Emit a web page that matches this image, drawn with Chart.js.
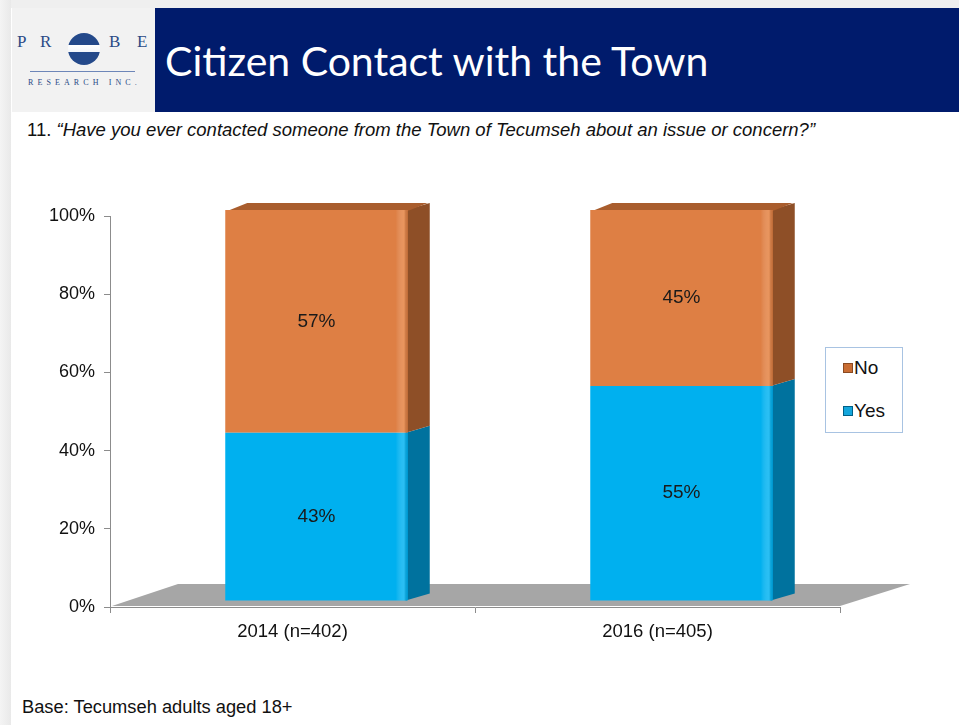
<!DOCTYPE html>
<html>
<head>
<meta charset="utf-8">
<script src="https://cdn.jsdelivr.net/npm/chart.js@4"></script>
<style>
  html, body { margin: 0; padding: 0; background: #fff; }
  body { width: 959px; height: 725px; position: relative; overflow: hidden; font-family: "Liberation Sans", Arial, sans-serif; }
  #topstrip { position: absolute; left: 0; top: 0; width: 959px; height: 8px; background: #efefef; }
  #leftstrip { position: absolute; left: 0; top: 0; width: 11px; height: 725px; background: linear-gradient(to right, #f4f4f4, #e9e9e9); }
  #logo { position: absolute; left: 12px; top: 8px; width: 143px; height: 104px; background: #f2f2f2; }
  #bar { position: absolute; left: 155px; top: 8px; width: 804px; height: 104px; background: #001b6c; }
  #title { position: absolute; left: 165px; top: 35px; color: #fff; font-family: Lato, "Open Sans", sans-serif; font-size: 41px; line-height: 52px; white-space: nowrap; }
  .lg { position: absolute; font-family: "Liberation Serif", "DejaVu Serif", serif; color: #2b4a86; font-size: 17px; top: 32px; }
  #circle { position: absolute; left: 68px; top: 33px; width: 32px; height: 32px; border-radius: 50%;
    background: linear-gradient(to bottom, #24498a 0, #24498a 38%, #fff 38%, #f4f6fa 58%, #24498a 58%, #24498a 100%); }
  #rule { position: absolute; left: 30px; top: 71px; width: 105px; height: 1px; background: #6d86b8; }
  #research { position: absolute; left: 28px; top: 78px; font-family: "Liberation Serif", serif; font-size: 8px; letter-spacing: 4.1px; color: #2b4a86; white-space: nowrap; }
  #question { position: absolute; left: 27px; top: 119px; font-size: 18.5px; color: #111; white-space: nowrap; }
  #base { position: absolute; left: 22px; top: 696px; font-size: 18.3px; color: #111; white-space: nowrap; }
  #wrap { position: absolute; left: 0; top: 151px; width: 959px; height: 500px; }
  #legend { position: absolute; left: 825px; top: 347px; width: 76px; height: 84px; border: 1px solid #a8c3e2; background: #fff; }
  .item { position: absolute; left: 17px; font-size: 19px; color: #111; line-height: 22px; }
  .mk { display: inline-block; width: 8px; height: 8px; margin-right: 1px; vertical-align: 1px; border: 1px solid; }
</style>
</head>
<body>
<div id="topstrip"></div>
<div id="leftstrip"></div>
<div id="logo"></div>
<span class="lg" style="left:17px">P</span>
<span class="lg" style="left:40px">R</span>
<div id="circle"></div>
<span class="lg" style="left:109px">B</span>
<span class="lg" style="left:137px">E</span>
<div id="rule"></div>
<div id="research">RESEARCH INC.</div>
<div id="bar"></div>
<div id="title">Citizen Contact with the Town</div>
<div id="question">11. <i>“Have you ever contacted someone from the Town of Tecumseh about an issue or concern?”</i></div>
<div id="wrap"><canvas id="chart"></canvas></div>
<div id="legend">
  <div class="item" style="top:9px"><span class="mk" style="background:#c96d33;border-color:#8a4a22"></span>No</div>
  <div class="item" style="top:52px"><span class="mk" style="background:#13a6dc;border-color:#005f86"></span>Yes</div>
</div>
<div id="base">Base: Tecumseh adults aged 18+</div>

<script>
const categories = ['2014 (n=402)', '2016 (n=405)']
const yesValues = [43, 55]
const noValues = [57, 45]
const yTicks = [0, 20, 40, 60, 80, 100]

const DX = 22, DY = 7        // depth of the 3d boxes
const SHIFT_X = 24, SHIFT_Y = -6

const floorPlugin = {
  id: 'floor',
  beforeDatasetsDraw(chart) {
    const ctx = chart.ctx
    const x = chart.scales.x, y = chart.scales.y
    const y0 = y.getPixelForValue(0)
    ctx.save()
    ctx.fillStyle = '#a6a6a6'
    ctx.beginPath()
    ctx.moveTo(x.left + 2, y0 - 1)
    ctx.lineTo(x.left + 68, y0 - 23)
    ctx.lineTo(x.right + 70, y0 - 23)
    ctx.lineTo(x.right, y0 - 1)
    ctx.closePath()
    ctx.fill()
    ctx.restore()

    // boxes are drawn shifted back into the floor
    ctx.save()
    ctx.translate(SHIFT_X, SHIFT_Y)
    const sides = ['#00729e', '#8e4f27']
    const tops = ['#0090c4', '#a95d2d']
    chart.data.datasets.forEach((ds, i) => {
      chart.getDatasetMeta(i).data.forEach((bar, j) => {
        const x2 = bar.x + bar.width / 2
        const x1 = bar.x - bar.width / 2
        ctx.fillStyle = sides[i]
        ctx.beginPath()
        ctx.moveTo(x2 - 2, bar.y)
        ctx.lineTo(x2 + DX, bar.y - DY)
        ctx.lineTo(x2 + DX, bar.base - DY)
        ctx.lineTo(x2 - 2, bar.base)
        ctx.closePath()
        ctx.fill()
        if (i === chart.data.datasets.length - 1) {
          ctx.fillStyle = tops[i]
          ctx.beginPath()
          ctx.moveTo(x1 + 2, bar.y + 1)
          ctx.lineTo(x1 + DX, bar.y - DY)
          ctx.lineTo(x2 + DX - 2, bar.y - DY)
          ctx.lineTo(x2, bar.y + 1)
          ctx.closePath()
          ctx.fill()
        }
      })
    })
  },
  afterDatasetsDraw(chart) {
    const ctx = chart.ctx
    // highlight strip on the right edge of each front face
    chart.data.datasets.forEach((ds, i) => {
      chart.getDatasetMeta(i).data.forEach(bar => {
        const x2 = bar.x + bar.width / 2
        const g = ctx.createLinearGradient(x2 - 12, 0, x2, 0)
        g.addColorStop(0, 'rgba(255,255,255,0)')
        g.addColorStop(0.7, i === 0 ? 'rgba(120,220,255,0.35)' : 'rgba(255,190,140,0.35)')
        g.addColorStop(1, 'rgba(0,0,0,0.05)')
        ctx.fillStyle = g
        ctx.fillRect(x2 - 12, bar.y, 12, bar.base - bar.y)
      })
    })
    ctx.fillStyle = '#1a1a1a'
    ctx.font = '19px "Liberation Sans", Arial, sans-serif'
    ctx.textAlign = 'center'
    ctx.textBaseline = 'middle'
    chart.data.datasets.forEach((ds, i) => {
      chart.getDatasetMeta(i).data.forEach((bar, j) => {
        ctx.fillText(ds.data[j] + '%', bar.x, (bar.y + bar.base) / 2)
      })
    })
    ctx.restore()
  }
}

new Chart(document.getElementById('chart'), {
  type: 'bar',
  data: {
    labels: categories,
    datasets: [
      { label: 'Yes', data: yesValues, backgroundColor: '#00b0ef', clip: false },
      { label: 'No', data: noValues, backgroundColor: '#de7f44', clip: false }
    ]
  },
  options: {
    responsive: true,
    maintainAspectRatio: false,
    animation: false,
    layout: { padding: { left: 40, right: 119, top: 65, bottom: 0 } },
    plugins: { legend: { display: false }, tooltip: { enabled: false } },
    datasets: { bar: { barPercentage: 0.5, categoryPercentage: 1 } },
    scales: {
      x: {
        stacked: true,
        afterFit: s => { s.height = 44 },
        grid: { drawOnChartArea: false, tickLength: 6, color: '#8c8c8c' },
        border: { color: '#8c8c8c' },
        ticks: { color: '#111', font: { family: '"Liberation Sans", Arial', size: 18.5 }, padding: 8 }
      },
      y: {
        stacked: true,
        min: 0,
        max: 100,
        afterFit: s => { s.width = 70 },
        afterBuildTicks: s => { s.ticks = yTicks.map(v => ({ value: v })) },
        grid: { drawOnChartArea: false, tickLength: 6, color: '#8c8c8c' },
        border: { color: '#8c8c8c' },
        ticks: { color: '#111', font: { family: '"Liberation Sans", Arial', size: 18 }, padding: 9, callback: v => v + '%' }
      }
    }
  },
  plugins: [floorPlugin]
})
</script>
</body>
</html>
